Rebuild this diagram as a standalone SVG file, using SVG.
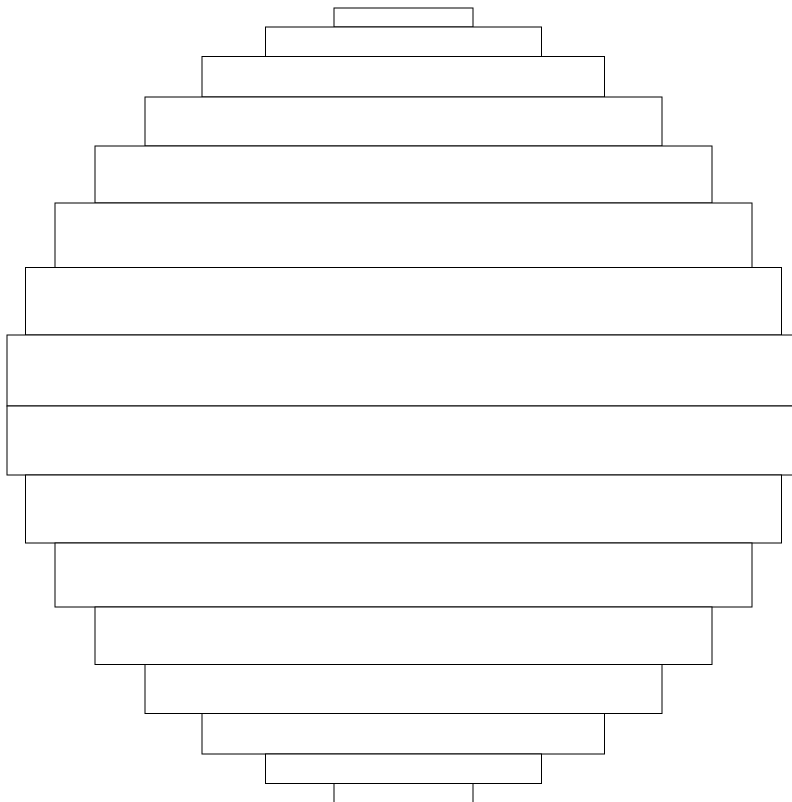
<svg xmlns="http://www.w3.org/2000/svg" width="792" height="802" viewBox="0 0 792 802">
<style>
.n{fill:#fff;stroke:#000;stroke-width:1}
</style>
<rect x="0" y="0" width="792" height="802" fill="#fff"/>
<g id="n1"><rect class="n" x="334" y="8" width="139" height="19"/></g>
<g id="n2"><rect class="n" x="265.5" y="27" width="276" height="29.5"/></g>
<g id="n3"><rect class="n" x="202" y="56.5" width="402.5" height="40.5"/></g>
<g id="n4"><rect class="n" x="145" y="97" width="517" height="49"/></g>
<g id="n5"><rect class="n" x="95" y="146" width="617" height="57"/></g>
<g id="n6"><rect class="n" x="55" y="203" width="697" height="64.5"/></g>
<g id="n7"><rect class="n" x="25.5" y="267.5" width="756" height="67.5"/></g>
<g id="n8"><rect class="n" x="7" y="335" width="793" height="71"/></g>
<g id="n9"><rect class="n" x="7" y="406" width="793" height="69"/></g>
<g id="n10"><rect class="n" x="25.5" y="475" width="756" height="68"/></g>
<g id="n11"><rect class="n" x="55" y="543" width="697" height="64"/></g>
<g id="n12"><rect class="n" x="95" y="607" width="617" height="57.5"/></g>
<g id="n13"><rect class="n" x="145" y="664.5" width="517" height="49"/></g>
<g id="n14"><rect class="n" x="202" y="713.5" width="402.5" height="40.5"/></g>
<g id="n15"><rect class="n" x="265.5" y="754" width="276" height="29.5"/></g>
<g id="n16"><rect class="n" x="334" y="783.5" width="139" height="20"/></g>
<g id="connectors"></g>
</svg>
